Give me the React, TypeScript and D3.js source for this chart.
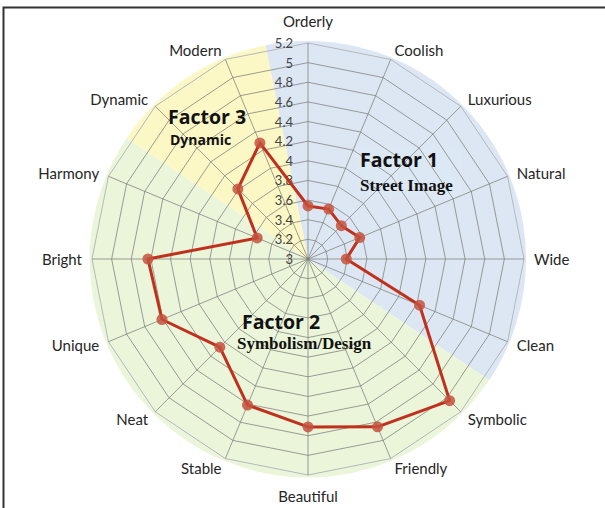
import React from 'react';
import * as d3 from 'd3';

const axes = [
  'Orderly', 'Coolish', 'Luxurious', 'Natural', 'Wide', 'Clean', 'Symbolic', 'Friendly',
  'Beautiful', 'Stable', 'Neat', 'Unique', 'Bright', 'Harmony', 'Dynamic', 'Modern',
];
const values = [3.54, 3.55, 3.48, 3.57, 3.39, 4.23, 5.04, 4.85, 4.71, 4.61, 4.27, 4.61, 4.63, 3.56, 4.01, 4.28];
const ticks = [3, 3.2, 3.4, 3.6, 3.8, 4, 4.2, 4.4, 4.6, 4.8, 5, 5.2];
const tickLabels = ['3', '3.2', '3.4', '3.6', '3.8', '4', '4.2', '4.4', '4.6', '4.8', '5', '5.2'];

// factor groups: background sectors, given in axis-index units (half steps)
const factors = [
  { name: 'Factor 1', start: -0.5, end: 5.5, fill: '#dde7f4' },
  { name: 'Factor 2', start: 5.5, end: 13.5, fill: '#ebf5da' },
  { name: 'Factor 3', start: 13.5, end: 15.5, fill: '#fcf8c6' },
];

const W = 605;
const H = 508;
const cx = 308;
const cy = 259;
const R = 216;

export default function App() {
  const n = axes.length;
  const step = (Math.PI * 2) / n;
  const r = d3.scaleLinear().domain([3, 5.2]).range([0, R]);
  const pt = (i: number, rad: number): [number, number] => [
    Math.sin(i * step) * rad,
    -Math.cos(i * step) * rad,
  ];

  const arc = d3.arc<{ start: number; end: number }>()
    .innerRadius(0)
    .outerRadius(R + 2)
    .startAngle((d) => d.start * step)
    .endAngle((d) => d.end * step);

  const ring = d3.lineRadial<string>()
    .angle((_, i) => i * step)
    .radius(0)
    .curve(d3.curveLinearClosed);

  const dataLine = d3.lineRadial<number>()
    .angle((_, i) => i * step)
    .radius((d) => r(d))
    .curve(d3.curveLinearClosed);

  const font = 'Lato, "Open Sans", sans-serif';

  return (
    <svg width={W} height={H} style={{ position: 'absolute', left: 0, top: 0 }}>
      <rect x={0} y={0} width={W} height={H} fill="#fff" />
      <rect x={3.5} y={7.5} width={W + 20} height={H + 20} fill="none" stroke="#333" strokeWidth={2} />
      <g transform={`translate(${cx},${cy})`}>
        {factors.map((f) => (
          <path key={f.name} d={arc(f) || ''} fill={f.fill} />
        ))}
        {/* label backgrounds that hide the grid */}
        <rect x={48} y={-113} width={106} height={50} fill="#dde7f4" opacity={0.85} />
        <rect x={-72} y={47} width={146} height={46} fill="#ebf5da" opacity={0.6} />
        {ticks.slice(1).map((t, k) => (
          <path
            key={t}
            d={ring.radius(r(t))(axes) || ''}
            fill="none"
            stroke={k === ticks.length - 2 ? '#b4b8bc' : '#7c7e7a'}
            strokeOpacity={k === ticks.length - 2 ? 1 : 0.75}
            strokeWidth={1}
          />
        ))}
        {axes.map((a, i) => {
          const [x, y] = pt(i, R);
          return <line key={a} x1={0} y1={0} x2={x} y2={y} stroke="#7c7e7a" strokeOpacity={0.75} />;
        })}
        {ticks.map((t, k) => (
          <text
            key={t}
            x={-15}
            y={-r(t)}
            textAnchor="end"
            dominantBaseline="central"
            fontFamily={font}
            fontSize={13}
            fill="#444"
          >
            {tickLabels[k]}
          </text>
        ))}
        <path d={dataLine(values) || ''} fill="none" stroke="#c0301c" strokeWidth={3} strokeLinejoin="round" />
        {values.map((v, i) => {
          const [x, y] = pt(i, r(v));
          return <circle key={axes[i]} cx={x} cy={y} r={5.5} fill="#c4523e" fillOpacity={0.85} />;
        })}
        {axes.map((a, i) => {
          const ang = i * step;
          const [x, y] = pt(i, R + 10);
          const s = Math.sin(ang);
          const c = Math.cos(ang);
          let anchor: 'start' | 'middle' | 'end' = 'middle';
          if (s > 0.1) anchor = 'start';
          else if (s < -0.1) anchor = 'end';
          const dy = Math.abs(s) < 0.1 ? (c > 0 ? -12 : 11) : 0;
          return (
            <text
              key={a}
              x={x}
              y={y + dy}
              textAnchor={anchor}
              dominantBaseline="central"
              fontFamily={font}
              fontSize={15}
              fill="#262626"
            >
              {a}
            </text>
          );
        })}
        <text x={52} y={-100} fontFamily='"Open Sans", sans-serif' fontWeight="bold" fontSize={19.5} fill="#111" dominantBaseline="central">
          Factor 1
        </text>
        <text x={52} y={-74} fontFamily='"Liberation Serif", serif' fontWeight="bold" fontSize={17} fill="#111" dominantBaseline="central">
          Street Image
        </text>
        <text x={-66} y={62} fontFamily='"Open Sans", sans-serif' fontWeight="bold" fontSize={19.5} fill="#111" dominantBaseline="central">
          Factor 2
        </text>
        <text x={-71} y={84} fontFamily='"Liberation Serif", serif' fontWeight="bold" fontSize={17} fill="#111" dominantBaseline="central">
          Symbolism/Design
        </text>
        <text x={-140} y={-143} fontFamily='"Open Sans", sans-serif' fontWeight="bold" fontSize={19.5} fill="#111" dominantBaseline="central">
          Factor 3
        </text>
        <text x={-138} y={-120} fontFamily='"Open Sans", sans-serif' fontWeight="bold" fontSize={14} fill="#111" dominantBaseline="central">
          Dynamic
        </text>
      </g>
    </svg>
  );
}
